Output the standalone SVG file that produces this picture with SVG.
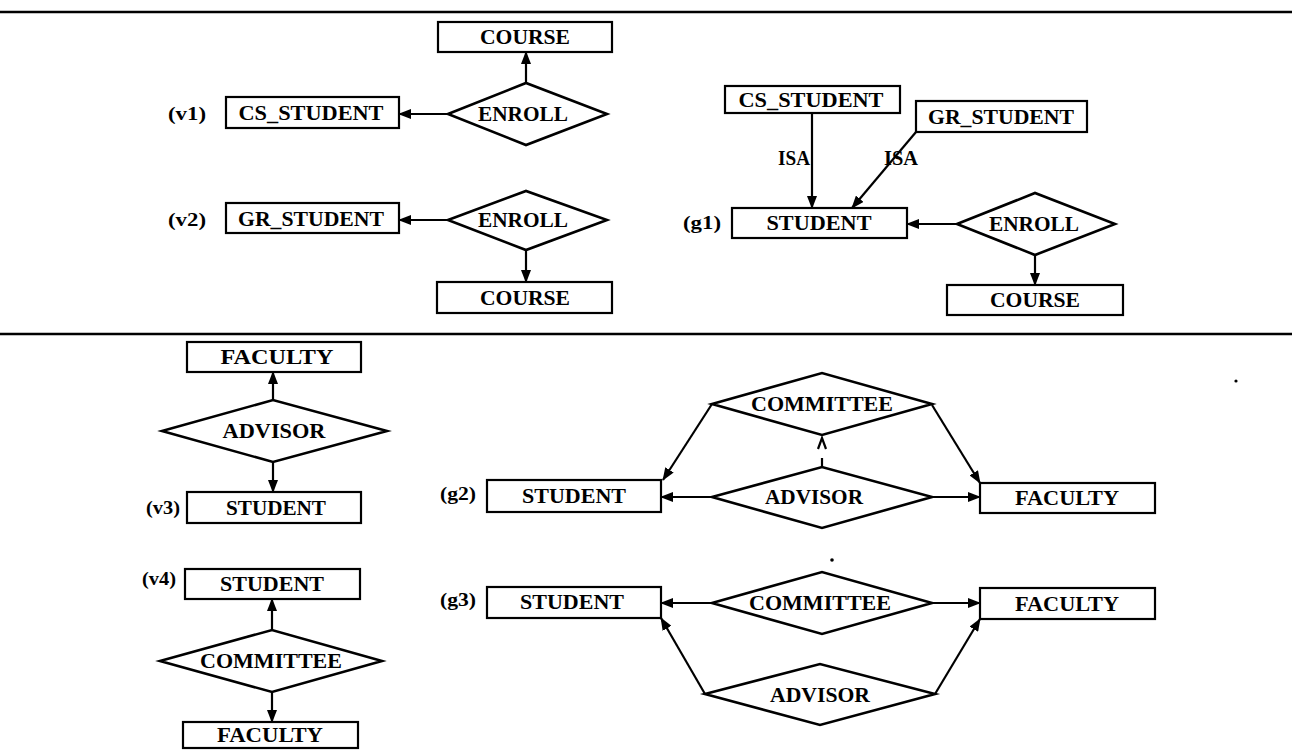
<svg xmlns="http://www.w3.org/2000/svg" width="1292" height="750" viewBox="0 0 1292 750">
  <style>
    .box { fill: #fff; stroke: #000; stroke-width: 2.2; }
    .rel { fill: #fff; stroke: #000; stroke-width: 2.6; stroke-linejoin: miter; }
    .lbl { font-family: "Liberation Serif", "DejaVu Serif", serif; font-weight: bold; font-size: 20px; text-anchor: middle; fill: #000; }
    .tag { font-family: "Liberation Serif", "DejaVu Serif", serif; font-weight: bold; font-size: 19px; fill: #000; }
    .edge { fill: none; stroke: #000; stroke-width: 2.2; marker-end: url(#head); }
    .plain { fill: none; stroke: #000; stroke-width: 2.2; }
    .rule { stroke: #000; stroke-width: 2.6; }
  </style>
  <defs>
    <marker id="head" markerUnits="userSpaceOnUse" markerWidth="13" markerHeight="10" refX="12" refY="5" orient="auto">
      <path d="M0,0 L13,5 L0,10 Z" fill="#000"/>
    </marker>
  </defs>
  <rect width="1292" height="750" fill="#fff"/>

  <!-- section rules -->
  <line class="rule" x1="0" y1="12" x2="1292" y2="12"/>
  <line class="rule" x1="0" y1="334" x2="1292" y2="334"/>

  <!-- connectors -->
  <g id="connectors">
    <!-- v1 -->
    <line class="edge" x1="526" y1="83" x2="526" y2="52"/>
    <line class="edge" x1="448" y1="114" x2="399" y2="114"/>
    <!-- v2 -->
    <line class="edge" x1="448" y1="220" x2="399" y2="220"/>
    <line class="edge" x1="526" y1="250" x2="526" y2="282"/>
    <!-- g1 -->
    <line class="edge" x1="812" y1="113" x2="812" y2="208"/>
    <line class="edge" x1="916" y1="132" x2="852" y2="208"/>
    <line class="edge" x1="957" y1="224" x2="907" y2="224"/>
    <line class="edge" x1="1035" y1="255" x2="1035" y2="285"/>
    <!-- v3 -->
    <line class="edge" x1="273" y1="400" x2="273" y2="372"/>
    <line class="edge" x1="273" y1="462" x2="273" y2="492"/>
    <!-- v4 -->
    <line class="edge" x1="272" y1="630" x2="272" y2="599"/>
    <line class="edge" x1="272" y1="692" x2="272" y2="722"/>
    <!-- g2 -->
    <line class="edge" x1="712" y1="497" x2="661" y2="497"/>
    <line class="edge" x1="932" y1="497" x2="980" y2="497"/>
    <line class="edge" x1="712" y1="404" x2="663" y2="480"/>
    <line class="edge" x1="932" y1="405" x2="980" y2="483"/>
    <line class="plain" x1="822" y1="458" x2="822" y2="467"/>
    <polyline class="plain" points="818,449 822,438 826,449"/>
    <!-- g3 -->
    <line class="edge" x1="712" y1="603" x2="661" y2="603"/>
    <line class="edge" x1="932" y1="603" x2="980" y2="603"/>
    <line class="edge" x1="705" y1="694" x2="661" y2="618"/>
    <line class="edge" x1="935" y1="694" x2="980" y2="619"/>
  </g>

  <!-- v1 -->
  <g id="v1-course">
    <rect class="box" x="438" y="22" width="174" height="30"/>
    <text class="lbl" x="525" y="44" textLength="90" lengthAdjust="spacingAndGlyphs">COURSE</text>
  </g>
  <g id="v1-enroll">
    <polygon class="rel" points="448,114 526,83 607,114 526,145"/>
    <text class="lbl" x="523" y="121" textLength="90" lengthAdjust="spacingAndGlyphs">ENROLL</text>
  </g>
  <g id="v1-cs-student">
    <text class="tag" x="168" y="120" textLength="38" lengthAdjust="spacingAndGlyphs">(v1)</text>
    <rect class="box" x="226" y="97" width="173" height="31"/>
    <text class="lbl" x="311" y="120" textLength="145" lengthAdjust="spacingAndGlyphs">CS_STUDENT</text>
  </g>

  <!-- v2 -->
  <g id="v2-gr-student">
    <text class="tag" x="168" y="226" textLength="38" lengthAdjust="spacingAndGlyphs">(v2)</text>
    <rect class="box" x="226" y="203" width="173" height="30"/>
    <text class="lbl" x="311" y="226" textLength="146" lengthAdjust="spacingAndGlyphs">GR_STUDENT</text>
  </g>
  <g id="v2-enroll">
    <polygon class="rel" points="448,220 526,191 607,220 526,250"/>
    <text class="lbl" x="523" y="227" textLength="90" lengthAdjust="spacingAndGlyphs">ENROLL</text>
  </g>
  <g id="v2-course">
    <rect class="box" x="437" y="282" width="175" height="31"/>
    <text class="lbl" x="525" y="305" textLength="90" lengthAdjust="spacingAndGlyphs">COURSE</text>
  </g>

  <!-- g1 -->
  <g id="g1-cs-student">
    <rect class="box" x="725" y="86" width="175" height="27"/>
    <text class="lbl" x="811" y="107" textLength="145" lengthAdjust="spacingAndGlyphs">CS_STUDENT</text>
  </g>
  <g id="g1-gr-student">
    <rect class="box" x="916" y="101" width="171" height="31"/>
    <text class="lbl" x="1001" y="124" textLength="146" lengthAdjust="spacingAndGlyphs">GR_STUDENT</text>
  </g>
  <g id="g1-isa-labels">
    <text class="lbl" x="794" y="165" textLength="32" lengthAdjust="spacingAndGlyphs">ISA</text>
    <text class="lbl" x="901" y="165" textLength="34" lengthAdjust="spacingAndGlyphs">ISA</text>
  </g>
  <g id="g1-student">
    <text class="tag" x="683" y="229" textLength="38" lengthAdjust="spacingAndGlyphs">(g1)</text>
    <rect class="box" x="732" y="208" width="175" height="30"/>
    <text class="lbl" x="819" y="230" textLength="105" lengthAdjust="spacingAndGlyphs">STUDENT</text>
  </g>
  <g id="g1-enroll">
    <polygon class="rel" points="957,224 1035,193 1115,224 1035,255"/>
    <text class="lbl" x="1034" y="231" textLength="90" lengthAdjust="spacingAndGlyphs">ENROLL</text>
  </g>
  <g id="g1-course">
    <rect class="box" x="947" y="285" width="176" height="30"/>
    <text class="lbl" x="1035" y="307" textLength="90" lengthAdjust="spacingAndGlyphs">COURSE</text>
  </g>

  <!-- v3 -->
  <g id="v3-faculty">
    <rect class="box" x="187" y="342" width="174" height="30"/>
    <text class="lbl" x="277" y="364" textLength="113" lengthAdjust="spacingAndGlyphs">FACULTY</text>
  </g>
  <g id="v3-advisor">
    <polygon class="rel" points="162,431 273,400 387,431 273,462"/>
    <text class="lbl" x="274" y="438" textLength="103" lengthAdjust="spacingAndGlyphs">ADVISOR</text>
  </g>
  <g id="v3-student">
    <text class="tag" x="146" y="514" textLength="34" lengthAdjust="spacingAndGlyphs">(v3)</text>
    <rect class="box" x="187" y="492" width="174" height="31"/>
    <text class="lbl" x="276" y="515" textLength="100" lengthAdjust="spacingAndGlyphs">STUDENT</text>
  </g>

  <!-- v4 -->
  <g id="v4-student">
    <text class="tag" x="142" y="585" textLength="34" lengthAdjust="spacingAndGlyphs">(v4)</text>
    <rect class="box" x="185" y="569" width="175" height="30"/>
    <text class="lbl" x="272" y="591" textLength="104" lengthAdjust="spacingAndGlyphs">STUDENT</text>
  </g>
  <g id="v4-committee">
    <polygon class="rel" points="160,661 272,630 382,661 272,692"/>
    <text class="lbl" x="271" y="668" textLength="142" lengthAdjust="spacingAndGlyphs">COMMITTEE</text>
  </g>
  <g id="v4-faculty">
    <rect class="box" x="183" y="722" width="175" height="26"/>
    <text class="lbl" x="270" y="742" textLength="106" lengthAdjust="spacingAndGlyphs">FACULTY</text>
  </g>

  <!-- g2 -->
  <g id="g2-student">
    <text class="tag" x="440" y="500" textLength="36" lengthAdjust="spacingAndGlyphs">(g2)</text>
    <rect class="box" x="487" y="480" width="174" height="32"/>
    <text class="lbl" x="574" y="503" textLength="104" lengthAdjust="spacingAndGlyphs">STUDENT</text>
  </g>
  <g id="g2-committee">
    <polygon class="rel" points="712,404 822,373 932,404 822,435"/>
    <text class="lbl" x="822" y="411" textLength="142" lengthAdjust="spacingAndGlyphs">COMMITTEE</text>
  </g>
  <g id="g2-advisor">
    <polygon class="rel" points="712,497 822,467 932,497 822,528"/>
    <text class="lbl" x="814" y="504" textLength="98" lengthAdjust="spacingAndGlyphs">ADVISOR</text>
  </g>
  <g id="g2-faculty">
    <rect class="box" x="980" y="483" width="175" height="30"/>
    <text class="lbl" x="1067" y="505" textLength="104" lengthAdjust="spacingAndGlyphs">FACULTY</text>
  </g>

  <!-- g3 -->
  <g id="g3-student">
    <text class="tag" x="440" y="606" textLength="36" lengthAdjust="spacingAndGlyphs">(g3)</text>
    <rect class="box" x="487" y="587" width="174" height="31"/>
    <text class="lbl" x="572" y="609" textLength="104" lengthAdjust="spacingAndGlyphs">STUDENT</text>
  </g>
  <g id="g3-committee">
    <polygon class="rel" points="712,603 822,572 932,603 822,634"/>
    <text class="lbl" x="820" y="610" textLength="142" lengthAdjust="spacingAndGlyphs">COMMITTEE</text>
  </g>
  <g id="g3-faculty">
    <rect class="box" x="980" y="588" width="175" height="31"/>
    <text class="lbl" x="1067" y="611" textLength="104" lengthAdjust="spacingAndGlyphs">FACULTY</text>
  </g>
  <g id="g3-advisor">
    <polygon class="rel" points="705,694 820,664 935,694 820,725"/>
    <text class="lbl" x="820" y="702" textLength="100" lengthAdjust="spacingAndGlyphs">ADVISOR</text>
  </g>

  <!-- specks -->
  <circle cx="832" cy="560" r="1.8" fill="#000"/>
  <circle cx="1236" cy="381" r="1.6" fill="#000"/>
</svg>
